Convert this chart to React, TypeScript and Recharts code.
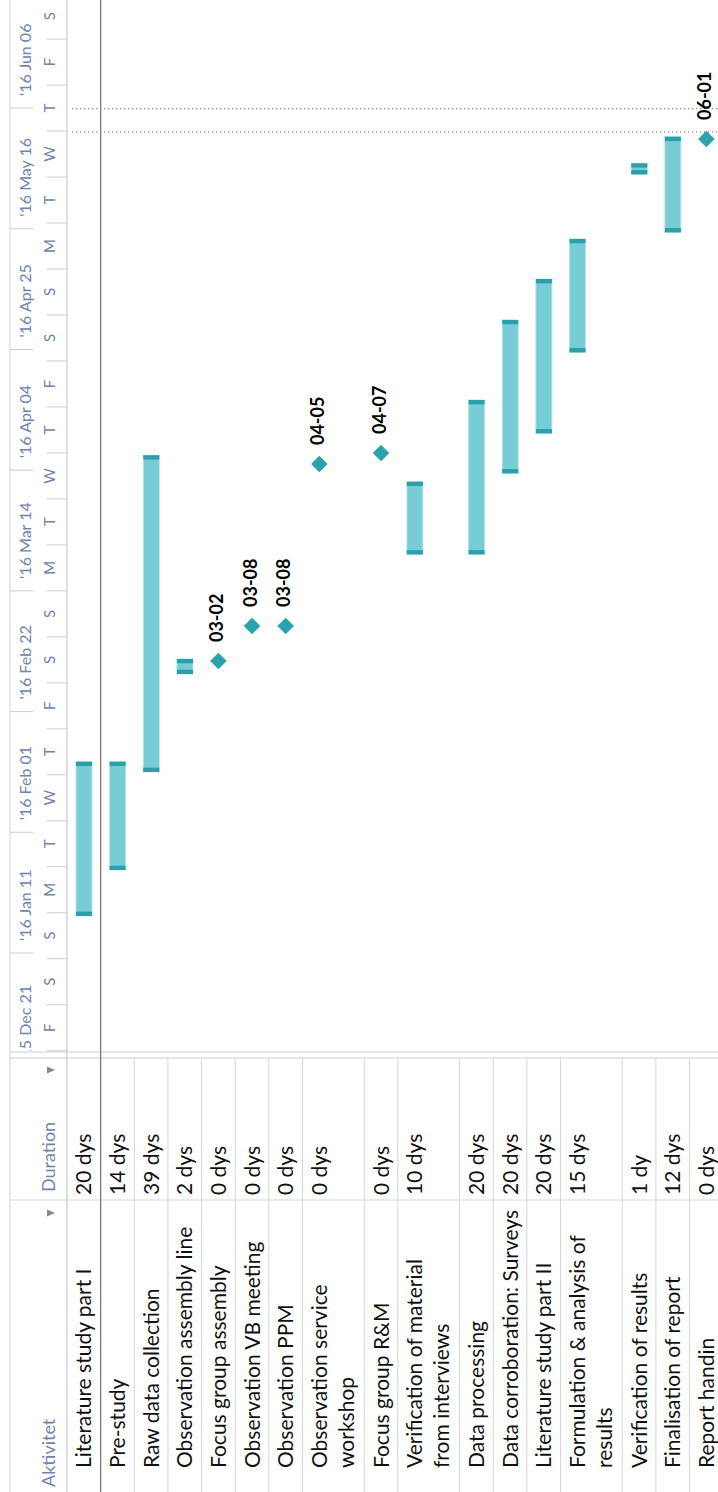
import React from "react";
import { ComposedChart, Bar, Scatter, XAxis, YAxis, ReferenceLine } from "recharts";

// ---------------- data ----------------
const taskNames = [
  "Literature study part I",
  "Pre-study",
  "Raw data collection",
  "Observation assembly line",
  "Focus group assembly",
  "Observation VB meeting",
  "Observation PPM",
  "Observation service\nworkshop",
  "Focus group R&M",
  "Verification of material\nfrom interviews",
  "Data processing",
  "Data corroboration: Surveys",
  "Literature study part II",
  "Formulation & analysis of\nresults",
  "Verification of results",
  "Finalisation of report",
  "Report handin",
];
const durations = [
  "20 dys", "14 dys", "39 dys", "2 dys", "0 dys", "0 dys", "0 dys", "0 dys", "0 dys",
  "10 dys", "20 dys", "20 dys", "20 dys", "15 dys", "1 dy", "12 dys", "0 dys",
];
// days counted from Mon 2015-12-21
const startDays: (number | null)[] = [
  27.45, 35.44, 52.49, 69.54, null, null, null, null, null,
  90.35, 90.35, 104.45, 111.41, 125.5, 156.47, 146.38, null,
];
const endDays: (number | null)[] = [
  54.28, 54.28, 107.6, 72.15, null, null, null, null, null,
  102.99, 117.21, 131.13, 138.26, 145.22, 158.39, 163.01, null,
];
const milestoneDays: (number | null)[] = [
  null, null, null, null, 71.8, 77.89, 77.89, 106.07, 107.99,
  null, null, null, null, null, null, null, 162.62,
];
const milestoneLabels: (string | null)[] = [
  null, null, null, null, "03-02", "03-08", "03-08", "04-05", "04-07",
  null, null, null, null, null, null, null, "06-01",
];
const majorTickDays = [0, 21, 42, 63, 84, 105, 126, 147, 168];
const majorTickLabels = [
  "'15 Dec 21", "'16 Jan 11", "'16 Feb 01", "'16 Feb 22", "'16 Mar 14",
  "'16 Apr 04", "'16 Apr 25", "'16 May 16", "'16 Jun 06",
];
const minorTickDays = [4, 12, 20, 28, 36, 44, 52, 60, 68, 76, 84, 92, 100, 108, 116, 124, 132, 140, 148, 156, 164, 172, 180];
const minorTickLabels = ["F", "S", "S", "M", "T", "W", "T", "F", "S", "S", "M", "T", "W", "T", "F", "S", "S", "M", "T", "W", "T", "F", "S"];
const markerLineDays = [163.85, 167.9];
const columnHeaders = ["Aktivitet", "Duration"];

// ---------------- layout & style ----------------
const FULL_W = 1492;
const VIEW_W = 718;
const VIEW_H = 1492;
const CHART_H = 760;
const TABLE_W = 440;
const TABLE_RIGHT = 434;
const DUR_COL = 292;
const MINOR_H = 34;
const MAJOR_H = 33;
const HEADER_H = MINOR_H + MAJOR_H;
const PLOT_W = FULL_W - TABLE_W;
const DOMAIN: [number, number] = [3.775, 186.8];
const PX_PER_DAY = PLOT_W / (DOMAIN[1] - DOMAIN[0]);
const LINE_H = 28.05;
const ROW_PAD = 5.6;
const FIRST_LINE_CENTER = 16.8;
const Y_MAX = CHART_H - HEADER_H;

const FONT = "Lato, 'Open Sans', sans-serif";
const BAR_FILL = "#76cdd5";
const BAR_CAP = "#2aa0aa";
const BAR_EDGE = "#b8e4e8";
const DIAMOND = "#2aa3ad";
const HEAD_TEXT = "#7084b0";
const GRID = "#d6d6d6";
const DARK = "#808080";

type Row = {
  name: string;
  dur: string;
  lines: string[];
  top: number;
  height: number;
  yc: number;
  span: [number, number] | null;
  ms: number | null;
  msLabel: string | null;
};

const rows: Row[] = [];
{
  let acc = 0;
  taskNames.forEach((name, i) => {
    const lines = name.split("\n");
    const height = ROW_PAD + LINE_H * lines.length;
    const s = startDays[i];
    const e = endDays[i];
    rows.push({
      name,
      dur: durations[i],
      lines,
      top: acc,
      height,
      yc: acc + FIRST_LINE_CENTER,
      span: s != null && e != null ? [s, e] : null,
      ms: milestoneDays[i],
      msLabel: milestoneLabels[i],
    });
    acc += height;
  });
}
const milestoneRows = rows.filter((r) => r.ms != null);

// ---------------- custom renderers ----------------
const MajorTick = (props: any) => {
  const { x, index } = props;
  const label = majorTickLabels[index] ?? "";
  return (
    <g>
      {x >= TABLE_W && <line x1={x} x2={x} y1={10} y2={33} stroke="#cfcfcf" strokeWidth={1} />}
      <svg x={TABLE_W + 1} y={0} width={PLOT_W} height={MAJOR_H + 5} overflow="hidden">
        <text x={x - TABLE_W - 1 + 12} y={31} fontFamily={FONT} fontSize={16} fill={HEAD_TEXT}>
          {label}
        </text>
      </svg>
    </g>
  );
};

const MinorTick = (props: any) => {
  const { x, index } = props;
  const label = minorTickLabels[index] ?? "";
  return (
    <g>
      <line x1={x} x2={x} y1={47} y2={HEADER_H} stroke="#cfcfcf" strokeWidth={1} />
      <text x={x + 4 * PX_PER_DAY} y={55} textAnchor="middle" fontFamily={FONT} fontSize={15} fill={HEAD_TEXT}>
        {label}
      </text>
    </g>
  );
};

const RowTick = (props: any) => {
  const { y, index } = props;
  const r = rows[index];
  if (!r) return <g />;
  const rowBottom = y - FIRST_LINE_CENTER + r.height;
  const first = index === 0;
  return (
    <g>
      {r.lines.map((ln, k) => (
        <text key={k} x={24} y={y + 7.5 + k * 27} fontFamily={FONT} fontSize={21} fill="#111">
          {ln}
        </text>
      ))}
      <text x={297} y={y + 7.5} fontFamily={FONT} fontSize={21} fill="#111">
        {r.dur}
      </text>
      <line
        x1={0}
        x2={first ? FULL_W : TABLE_RIGHT}
        y1={rowBottom}
        y2={rowBottom}
        stroke={first ? DARK : GRID}
        strokeWidth={first ? 1.4 : 1}
      />
    </g>
  );
};

const GanttBar = (props: any) => {
  const { x, y, width, height, payload } = props;
  if (!payload || !payload.span || !isFinite(x) || !isFinite(width)) return <g />;
  const cap = Math.min(4.3, width / 2.6);
  return (
    <g>
      <rect x={x} y={y} width={width} height={height} fill={BAR_FILL} stroke={BAR_EDGE} strokeWidth={1} />
      <rect x={x} y={y} width={cap} height={height} fill={BAR_CAP} />
      <rect x={x + width - cap} y={y} width={cap} height={height} fill={BAR_CAP} />
    </g>
  );
};

const Milestone = (props: any) => {
  const { cx, cy, payload } = props;
  const h = 8.3;
  return (
    <g>
      <polygon points={`${cx},${cy - h} ${cx + h},${cy} ${cx},${cy + h} ${cx - h},${cy}`} fill={DIAMOND} />
      <text x={cx + 19} y={cy + 4.5} fontFamily={FONT} fontWeight={700} fontSize={18} fill="#000">
        {payload.msLabel}
      </text>
    </g>
  );
};

const Frame = () => (
  <svg width={FULL_W} height={CHART_H} style={{ position: "absolute", left: 0, top: 0 }}>
    <line x1={0} x2={FULL_W} y1={10} y2={10} stroke="#cfcfcf" />
    <line x1={0} x2={FULL_W} y1={HEADER_H} y2={HEADER_H} stroke="#bdbdbd" />
    <line x1={DUR_COL} x2={DUR_COL} y1={10} y2={CHART_H} stroke={GRID} />
    <line x1={TABLE_RIGHT} x2={TABLE_RIGHT} y1={10} y2={CHART_H} stroke="#cfcfcf" />
    <line x1={TABLE_W} x2={TABLE_W} y1={10} y2={CHART_H} stroke="#cfcfcf" />
    <text x={5} y={55} fontFamily={FONT} fontSize={18} fill={HEAD_TEXT}>{columnHeaders[0]}</text>
    <text x={300} y={55} fontFamily={FONT} fontSize={18} fill={HEAD_TEXT}>{columnHeaders[1]}</text>
    <polygon points="275.5,47 282.5,47 279,55" fill="#8a8a8a" />
    <polygon points="418.5,47 425.5,47 422,55" fill="#8a8a8a" />
  </svg>
);

export default function App() {
  return (
    <div
      style={{
        position: "absolute",
        left: 0,
        top: 0,
        width: VIEW_W,
        height: VIEW_H,
        overflow: "hidden",
        background: "#fff",
      }}
    >
      <div
        style={{
          position: "absolute",
          left: 0,
          top: 0,
          width: FULL_W,
          height: CHART_H,
          transformOrigin: "0 0",
          transform: `translateY(${VIEW_H}px) rotate(-90deg)`,
        }}
      >
        <Frame />
        <div style={{ position: "absolute", left: 0, top: 0 }}>
          <ComposedChart
            width={FULL_W}
            height={CHART_H}
            data={rows}
            layout="vertical"
            margin={{ top: 0, right: 0, bottom: 0, left: 0 }}
          >
            <XAxis
              xAxisId="minor"
              type="number"
              orientation="top"
              domain={DOMAIN}
              allowDataOverflow
              ticks={minorTickDays}
              interval={0}
              height={MINOR_H}
              axisLine={false}
              tickLine={false}
              tick={<MinorTick />}
            />
            <XAxis
              xAxisId="major"
              type="number"
              orientation="top"
              domain={DOMAIN}
              allowDataOverflow
              ticks={majorTickDays}
              interval={0}
              height={MAJOR_H}
              axisLine={false}
              tickLine={false}
              tick={<MajorTick />}
            />
            <YAxis
              type="number"
              dataKey="yc"
              domain={[0, Y_MAX]}
              allowDataOverflow
              width={TABLE_W}
              ticks={rows.map((r) => r.yc)}
              interval={0}
              axisLine={false}
              tickLine={false}
              tick={<RowTick />}
            />
            {markerLineDays.map((d, i) => (
              <ReferenceLine
                key={i}
                xAxisId="major"
                segment={[{ x: d, y: 5 }, { x: d, y: Y_MAX }]}
                stroke="#8c8c8c"
                strokeWidth={1.2}
                strokeDasharray="1.3 2.7"
              />
            ))}
            <Bar
              xAxisId="major"
              dataKey="span"
              barSize={16}
              shape={<GanttBar />}
              isAnimationActive={false}
            />
            <Scatter
              xAxisId="major"
              data={milestoneRows}
              dataKey="ms"
              shape={<Milestone />}
              isAnimationActive={false}
            />
          </ComposedChart>
        </div>
      </div>
    </div>
  );
}
